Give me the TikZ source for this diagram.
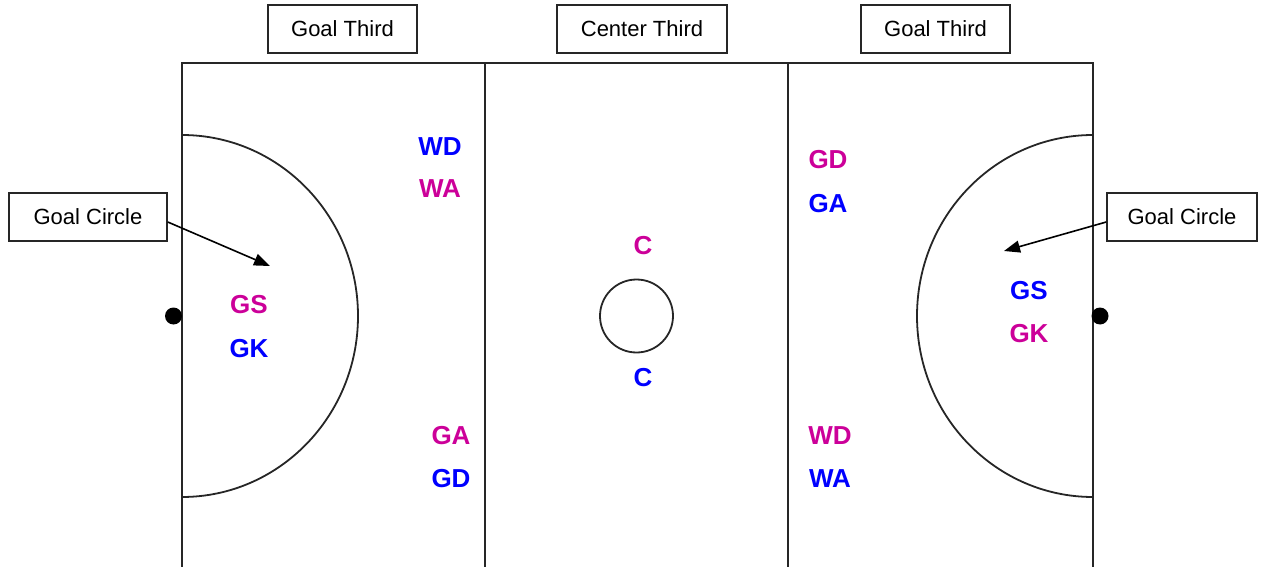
\documentclass[tikz,border=0pt]{standalone}
\usepackage{fontspec}
\setmainfont{Liberation Sans}
\usetikzlibrary{arrows.meta}
\definecolor{pinkpos}{RGB}{204,0,153}
\definecolor{bluepos}{RGB}{0,0,255}
\begin{document}
\begin{tikzpicture}[x=1pt,y=-1pt,
  court/.style={line width=1.8pt,black!85},
  labelbox/.style={draw,line width=1.5pt,black!85,text=black,minimum height=48pt,inner sep=0pt,font=\fontsize{22}{26}\selectfont},
  posn/.style={font=\fontsize{26}{30}\selectfont\bfseries,inner sep=0pt},
  pinkp/.style={posn,text=pinkpos},
  bluep/.style={posn,text=bluepos},
  pointer/.style={line width=1.6pt,-{Triangle[length=16pt,width=12pt]}}]
\useasboundingbox (0,0) rectangle (1261,567);
\begin{scope}
\clip (0,0) rectangle (1261,567);
% court
\draw[court] (182,600) -- (182,63) -- (1093,63) -- (1093,600);
\draw[court] (485,63) -- (485,600);
\draw[court] (788,63) -- (788,600);
% goal circles
\draw[court] (182,135) arc[start angle=-90,end angle=90,x radius=176,y radius=181];
\draw[court] (1093,135) arc[start angle=-90,end angle=-270,x radius=176,y radius=181];
% centre circle
\node[draw,circle,line width=1.8pt,black!85,minimum size=73pt,inner sep=0pt] (cc) at (636.5,316) {};
% goal posts
\fill (173.5,316) circle (8.5);
\fill (1100,316) circle (8.5);
\end{scope}
% third labels
\node[labelbox,minimum width=149pt] (gt1) at (342.5,29) {Goal Third};
\node[labelbox,minimum width=170pt] (ct) at (642,29) {Center Third};
\node[labelbox,minimum width=149pt] (gt2) at (935.5,29) {Goal Third};
% goal circle labels
\node[labelbox,minimum width=158pt] (gc1) at (88,217) {Goal Circle};
\node[labelbox,minimum width=150pt] (gc2) at (1182,217) {Goal Circle};
\coordinate (t1) at (270,266);
\coordinate (t2) at (1004,251);
\draw[pointer] ([yshift=-5pt]gc1.east) -- (t1);
\draw[pointer] ([yshift=-5pt]gc2.west) -- (t2);
% positions
\node[bluep] (wd1) at (440,147) {WD};
\node[pinkp] (wa1) at (440,189) {WA};
\node[pinkp] (gs1) at (249,305) {GS};
\node[bluep] (gk1) at (249,349) {GK};
\node[pinkp] (ga1) at (451,436) {GA};
\node[bluep] (gd1) at (451,479) {GD};
\node[pinkp] (c1) at (643,246) {C};
\node[bluep] (c2) at (643,378) {C};
\node[pinkp] (gd2) at (828,160) {GD};
\node[bluep] (ga2) at (828,204) {GA};
\node[bluep] (gs2) at (1029,291) {GS};
\node[pinkp] (gk2) at (1029,334) {GK};
\node[pinkp] (wd2) at (830,436) {WD};
\node[bluep] (wa2) at (830,479) {WA};
\end{tikzpicture}
\end{document}
